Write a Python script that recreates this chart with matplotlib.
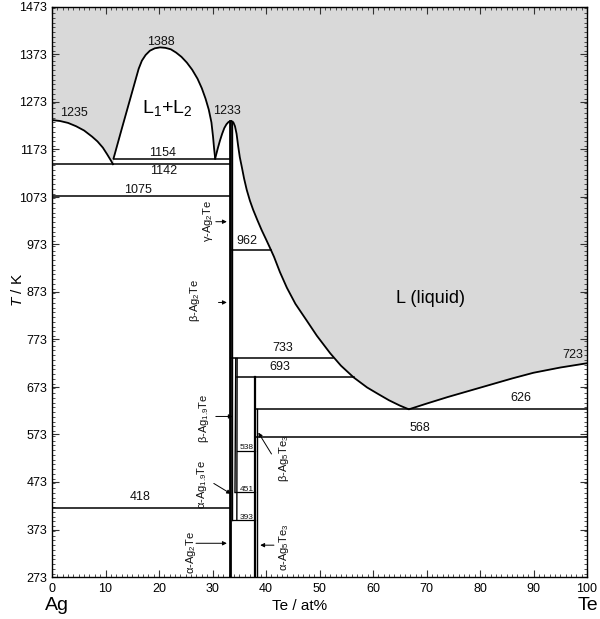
import matplotlib
matplotlib.use("Agg")
import matplotlib.pyplot as plt
import numpy as np
from matplotlib.ticker import MultipleLocator

# ---- data ----
ag_liq_x = [0, 1.5, 3, 4.5, 6, 7.5, 8.5, 9.5, 10.3, 11.0, 11.4]
ag_liq_T = [1235, 1233, 1229, 1222, 1213, 1200, 1190, 1177, 1163, 1150, 1142]

gap_x = [11.5, 13.0, 14.5, 15.5, 16.2, 16.8, 17.5, 18.3, 19.2, 20.2, 21.2, 22.2, 23.2, 24.2, 25.2,
         26.2, 27.2, 28.0, 28.7, 29.3, 29.8, 30.1, 30.3, 30.5]
gap_T = [1154, 1215, 1275, 1315, 1343, 1360, 1372, 1381, 1386, 1388, 1387, 1384, 1377, 1368, 1356,
         1341, 1322, 1302, 1280, 1257, 1230, 1200, 1175, 1154]

te_liq_x = [30.5, 31.0, 31.4, 31.8, 32.2, 32.6, 33.0, 33.5, 33.9, 34.2, 34.5, 34.8, 35.1, 35.5, 35.9,
            36.4, 37.0, 37.6, 38.4, 39.2, 40.0, 40.7, 41.5, 42.6, 43.9, 45.5, 47.6, 49.5, 52.0, 54.0,
            56.4, 58.9, 61.0, 63.0, 65.0, 66.7, 70, 74, 78, 82, 86, 90, 95, 100]
te_liq_T = [1154, 1176, 1192, 1206, 1218, 1226, 1231, 1233, 1230, 1222, 1206, 1180, 1157, 1135, 1112,
            1088, 1065, 1046, 1024, 1003, 984, 967, 947, 915, 882, 848, 813, 781, 744, 718,
            693, 672, 658, 645, 634, 626, 638, 652, 665, 678, 691, 703, 714, 723]

# horizontal invariant lines: (T, x_start, x_end)
h_T = [1154, 1142, 1075, 962, 733, 693, 626, 568, 538, 451, 393, 418]
h_x0 = [11.5, 0, 0, 33.6, 33.6, 34.6, 38.0, 38.0, 34.5, 34.2, 33.6, 0]
h_x1 = [33.3, 33.3, 33.3, 40.9, 52.6, 56.4, 100, 100, 38.0, 38.0, 38.0, 33.3]

# vertical phase lines: (x_bottom, T_bottom, x_top, T_top, lw)
v_x0 = [33.3, 33.6, 34.55, 34.2, 38.0, 38.3]
v_T0 = [273, 393, 393, 451, 273, 273]
v_x1 = [33.3, 33.6, 34.6, 34.35, 38.0, 38.3]
v_T1 = [1233, 1233, 733, 733, 693, 626]
v_lw = [2.0, 1.0, 1.0, 1.0, 1.6, 1.0]

# temperature labels: text, x, T, size
num_txt = ["1235", "1388", "1233", "1154", "1142", "1075", "962", "733", "693", "723", "626", "568", "418",
           "538", "451", "393"]
num_x = [4.1, 20.4, 32.7, 20.6, 20.8, 16.1, 36.4, 43.2, 42.6, 97.4, 87.7, 68.8, 16.4, 36.4, 36.4, 36.4]
num_T = [1250, 1400, 1254, 1166, 1128, 1088, 981, 755, 716, 740, 649, 586, 441, 545, 458, 398]
num_sz = [9]*13 + [6, 6, 6]

# phase labels with arrows: text, text x, text T, arrow tail (x,T), arrow head (x,T)
ph_txt = [r"γ-Ag$_2$Te", r"β-Ag$_2$Te", r"β-Ag$_{1.9}$Te", r"α-Ag$_{1.9}$Te",
          r"α-Ag$_2$Te", r"β-Ag$_5$Te$_3$", r"α-Ag$_5$Te$_3$"]
ph_x = [29.2, 26.7, 28.4, 28.0, 25.9, 43.3, 43.4]
ph_T = [1023, 855, 607, 468, 325, 523, 336]
ar_x0 = [30.1, 30.6, 30.1, 29.8, 26.4, 41.3, 42.0]
ar_T0 = [1021, 851, 611, 473, 344, 527, 340]
ar_x1 = [33.2, 33.2, 34.3, 33.9, 33.2, 38.3, 38.4]
ar_T1 = [1021, 851, 611, 445, 344, 582, 340]

# ---- figure ----
plt.rcParams['font.family'] = ['Liberation Sans', 'DejaVu Sans']
plt.rcParams['mathtext.fontset'] = 'custom'
plt.rcParams['mathtext.rm'] = 'Liberation Sans'
plt.rcParams['mathtext.it'] = 'Liberation Sans:italic'
fig = plt.figure(figsize=(6.0, 6.19), dpi=100)
ax = fig.add_axes([52/600, 1-577/619, 535/600, 570/619])

# liquid region (gray)
bx = list(ag_liq_x) + list(gap_x) + list(te_liq_x[1:])
bT = list(ag_liq_T) + list(gap_T) + list(te_liq_T[1:])
ax.fill_between(bx, bT, 1473, color="#d9d9d9", lw=0, zorder=0)

lc = "black"
ax.plot(ag_liq_x, ag_liq_T, color=lc, lw=1.3)
ax.plot(gap_x, gap_T, color=lc, lw=1.3)
ax.plot(te_liq_x, te_liq_T, color=lc, lw=1.3)

for T, x0, x1 in zip(h_T, h_x0, h_x1):
    ax.plot([x0, x1], [T, T], color=lc, lw=1.1 if T not in (538, 451, 393) else 0.9)

for x0, T0, x1, T1, lw in zip(v_x0, v_T0, v_x1, v_T1, v_lw):
    ax.plot([x0, x1], [T0, T1], color=lc, lw=lw)

for t, x, T, s in zip(num_txt, num_x, num_T, num_sz):
    ax.text(x, T, t, fontsize=s, ha="center", va="center", color="#111111")

for t, x, T, x0, T0, x1, T1 in zip(ph_txt, ph_x, ph_T, ar_x0, ar_T0, ar_x1, ar_T1):
    ax.text(x, T, t, fontsize=8, rotation=90, ha="center", va="center", color="#111111")
    ax.annotate("", xy=(x1, T1), xytext=(x0, T0),
                arrowprops=dict(arrowstyle="-|>", color=lc, lw=0.7, mutation_scale=6))

ax.text(21.5, 1261, r"L$_1$+L$_2$", fontsize=14, ha="center", va="center")
ax.text(70.7, 859, "L (liquid)", fontsize=13, ha="center", va="center")

ax.set_xlim(0, 100)
ax.set_ylim(273, 1473)
ax.set_xticks(np.arange(0, 101, 10))
ax.set_yticks(np.arange(273, 1474, 100))
ax.xaxis.set_minor_locator(MultipleLocator(1))
ax.yaxis.set_minor_locator(MultipleLocator(10))
ax.tick_params(which="both", direction="in", top=True, right=True, labelsize=9, color="#333333")
ax.tick_params(which="major", length=5, width=0.8)
ax.tick_params(which="minor", length=2.5, width=0.6)
ax.tick_params(axis="x", pad=4)
for sp in ax.spines.values():
    sp.set_linewidth(1.0)

fig.text(18/600, 1-290/619, r"$T$ / K", fontsize=11, ha="center", va="center", rotation=90)
fig.text(300/600, 1-606/619, "Te / at%", fontsize=11, ha="center", va="center")
fig.text(57/600, 1-606/619, "Ag", fontsize=14, ha="center", va="center")
fig.text(588/600, 1-606/619, "Te", fontsize=14, ha="center", va="center")

fig.savefig("out.png", dpi=100)
